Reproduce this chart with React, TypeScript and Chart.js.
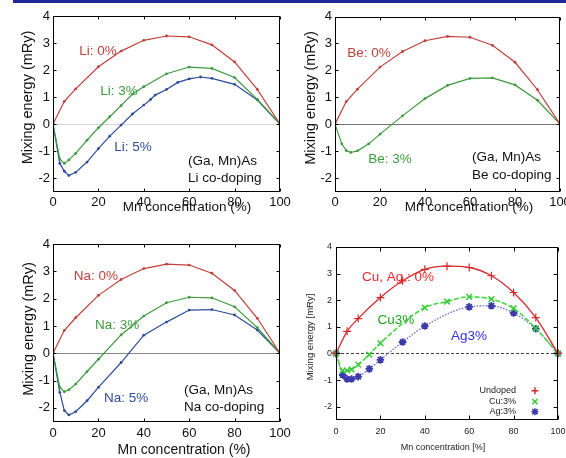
import React, { useEffect, useRef } from 'react';
import { Chart, registerables } from 'chart.js';
Chart.register(...registerables);

const FONT = '"Liberation Sans", Arial, Helvetica, sans-serif';

// ---------- data ----------
const xTickValues = [0, 20, 40, 60, 80, 100];
const yTickValues = [-2, -1, 0, 1, 2, 3, 4];

const undopedX = [0, 5, 10, 20, 30, 40, 50, 60, 70, 80, 90, 100];
const undopedY = [0, 0.84, 1.3, 2.12, 2.7, 3.1, 3.26, 3.23, 2.93, 2.3, 1.28, 0];

const li3X = [0, 3, 5, 7, 10, 15, 20, 25, 30, 35, 40, 50, 60, 70, 80, 90, 100];
const li3Y = [0, -1.3, -1.46, -1.33, -1.09, -0.6, -0.14, 0.27, 0.68, 1.11, 1.38, 1.86, 2.11, 2.06, 1.72, 0.91, 0];

const li5X = [0, 3, 5, 7, 10, 15, 20, 25, 30, 35, 40, 43, 45, 50, 55, 60, 65, 70, 80, 90, 100];
const li5Y = [0, -1.46, -1.75, -1.91, -1.79, -1.41, -0.91, -0.45, -0.04, 0.37, 0.7, 0.91, 1.07, 1.28, 1.54, 1.67, 1.74, 1.69, 1.47, 0.89, 0];

const be3X = [0, 3, 5, 7, 10, 15, 20, 30, 40, 50, 60, 70, 80, 90, 100];
const be3Y = [0, -0.73, -0.98, -1.05, -0.99, -0.73, -0.37, 0.31, 0.95, 1.44, 1.7, 1.72, 1.46, 0.89, 0];

const naX = [0, 3, 5, 7, 10, 15, 20, 30, 40, 50, 60, 70, 80, 90, 100];
const na3Y = [0, -1.25, -1.41, -1.34, -1.13, -0.67, -0.22, 0.67, 1.36, 1.85, 2.05, 2.03, 1.7, 0.94, 0];
const na5Y = [0, -1.43, -2.1, -2.26, -2.14, -1.74, -1.25, -0.34, 0.66, 1.14, 1.58, 1.6, 1.4, 0.85, 0];

const brUndopedX = [0, 5, 10, 20, 30, 40, 50, 60, 70, 80, 90, 100];
const brUndopedY = [0, 0.83, 1.31, 2.1, 2.73, 3.16, 3.28, 3.23, 2.92, 2.29, 1.35, 0];
const cu3X = [0, 3, 5, 7, 10, 15, 20, 40, 50, 60, 70, 80, 90, 100];
const cu3Y = [0, -0.64, -0.64, -0.6, -0.42, -0.04, 0.39, 1.72, 1.95, 2.13, 2.04, 1.69, 0.94, 0];
const ag3X = [0, 3, 5, 7, 10, 15, 20, 30, 40, 60, 70, 80, 90, 100];
const ag3Y = [0, -0.81, -0.96, -0.96, -0.87, -0.58, -0.24, 0.43, 1.03, 1.75, 1.79, 1.52, 0.93, 0];

const legendLabels = ['Undoped', 'Cu:3%', 'Ag:3%'];

// ---------- styles ----------
const RED = '#c0413b';
const GREEN = '#3f9a3f';
const BLUE = '#2e4c9c';

const pts = (xs: number[], ys: number[]) => xs.map((x, i) => ({ x, y: ys[i] }));
const matlab = (label: string, xs: number[], ys: number[], color: string) => ({
  label,
  data: pts(xs, ys),
  borderColor: color,
  backgroundColor: color,
  borderWidth: 1.2,
  pointRadius: 1.4,
  pointBackgroundColor: color,
  pointBorderWidth: 0,
  tension: 0,
  fill: false,
});

type Txt = { text: string; x: number; y: number; color: string; size: number; align?: CanvasTextAlign };
type Title = { text: string; cx: number; cy: number; size: number };
type Cfg = {
  left: number; top: number; width: number; height: number;
  plot: { l: number; r: number; t: number; b: number };
  datasets: any[];
  labels: Txt[];
  xTitle: Title; yTitle: Title;
  tickSize: number; padX: number; padY: number; tickColor: string; titleColor: string;
  zero: { color: string; dash: number[]; width: number };
  tickLen: number;
  legend?: { textX: number; markX: number; ys: number[]; markers: { kind: string; color: string }[] };
};

const tlCfg: Cfg = {
  left: 0, top: 0, width: 300, height: 228,
  plot: { l: 53, r: 280, t: 16, b: 191.5 },
  datasets: [
    matlab('Li: 0%', undopedX, undopedY, RED),
    matlab('Li: 3%', li3X, li3Y, GREEN),
    matlab('Li: 5%', li5X, li5Y, BLUE),
  ],
  labels: [
    { text: 'Li: 0%', x: 19.8, y: 2.7, color: RED, size: 13.5 },
    { text: 'Li: 3%', x: 29.1, y: 1.22, color: GREEN, size: 13.5 },
    { text: 'Li: 5%', x: 35.2, y: -0.87, color: BLUE, size: 13.5 },
    { text: '(Ga, Mn)As', x: 59.5, y: -1.39, color: '#111', size: 13.5, align: 'left' },
    { text: 'Li co-doping', x: 59.5, y: -2.02, color: '#111', size: 13.5, align: 'left' },
  ],
  xTitle: { text: 'Mn concentration (%)', cx: 187, cy: 207.5, size: 13.5 },
  yTitle: { text: 'Mixing energy (mRy)', cx: 28, cy: 97.5, size: 14.5 },
  tickSize: 13, padX: 3, padY: 3, tickColor: '#111', titleColor: '#111',
  zero: { color: '#d4d4d4', dash: [], width: 1 },
  tickLen: 3,
};

const trCfg: Cfg = {
  left: 283, top: 0, width: 283, height: 228,
  plot: { l: 52, r: 277, t: 16.5, b: 191.5 },
  datasets: [
    matlab('Be: 0%', undopedX, undopedY, RED),
    matlab('Be: 3%', be3X, be3Y, GREEN),
  ],
  labels: [
    { text: 'Be: 0%', x: 15.1, y: 2.65, color: RED, size: 13.5 },
    { text: 'Be: 3%', x: 24.4, y: -1.29, color: GREEN, size: 13.5 },
    { text: '(Ga, Mn)As', x: 60.9, y: -1.24, color: '#111', size: 13.5, align: 'left' },
    { text: 'Be co-doping', x: 60.9, y: -1.88, color: '#111', size: 13.5, align: 'left' },
  ],
  xTitle: { text: 'Mn concentration (%)', cx: 186, cy: 207.5, size: 13.5 },
  yTitle: { text: 'Mixing energy (mRy)', cx: 27.5, cy: 98, size: 14.5 },
  tickSize: 13, padX: 3, padY: 3, tickColor: '#111', titleColor: '#111',
  zero: { color: '#777', dash: [], width: 1 },
  tickLen: 3,
};

const blCfg: Cfg = {
  left: 0, top: 228, width: 300, height: 230,
  plot: { l: 53, r: 280, t: 16, b: 193.5 },
  datasets: [
    matlab('Na: 0%', undopedX, undopedY, RED),
    matlab('Na: 3%', naX, na3Y, GREEN),
    matlab('Na: 5%', naX, na5Y, BLUE),
  ],
  labels: [
    { text: 'Na: 0%', x: 18.9, y: 2.8, color: RED, size: 13.5 },
    { text: 'Na: 3%', x: 28.2, y: 1.03, color: GREEN, size: 13.5 },
    { text: 'Na: 5%', x: 32.2, y: -1.65, color: BLUE, size: 13.5 },
    { text: '(Ga, Mn)As', x: 57.7, y: -1.34, color: '#111', size: 13.5, align: 'left' },
    { text: 'Na co-doping', x: 57.7, y: -1.98, color: '#111', size: 13.5, align: 'left' },
  ],
  xTitle: { text: 'Mn concentration (%)', cx: 184, cy: 222, size: 14 },
  yTitle: { text: 'Mixing energy (mRy)', cx: 29, cy: 101, size: 14.5 },
  tickSize: 13, padX: 4, padY: 3, tickColor: '#111', titleColor: '#111',
  zero: { color: '#888', dash: [], width: 1 },
  tickLen: 3,
};

const brCfg: Cfg = {
  left: 283, top: 228, width: 283, height: 230,
  plot: { l: 53, r: 275, t: 19, b: 192 },
  datasets: [
    {
      label: 'Undoped', data: pts(brUndopedX, brUndopedY),
      borderColor: '#d42a2a', borderWidth: 1.3, cubicInterpolationMode: 'monotone', fill: false,
      pointStyle: 'cross', pointRadius: 4, pointBorderWidth: 1.2, pointBorderColor: '#d42a2a', clip: 6,
    },
    {
      label: 'Cu:3%', data: pts(cu3X, cu3Y),
      borderColor: '#45d845', borderWidth: 1.6, borderDash: [5, 2], cubicInterpolationMode: 'monotone', fill: false,
      pointStyle: 'crossRot', pointRadius: 4, pointBorderWidth: 1.5, pointBorderColor: '#33cc33', clip: 6,
    },
    {
      label: 'Ag:3%', data: pts(ag3X, ag3Y),
      borderColor: '#7a6cc8', borderWidth: 1.4, borderDash: [1.5, 1.5], cubicInterpolationMode: 'monotone', fill: false,
      pointStyle: 'star', pointRadius: 3.8, pointBorderWidth: 1.8, pointBorderColor: '#3a3aaa', clip: 6,
    },
  ],
  labels: [
    { text: 'Cu, Ag : 0%', x: 27.9, y: 2.87, color: '#f0262a', size: 13.5 },
    { text: 'Cu3%', x: 27, y: 1.25, color: '#1fa81f', size: 13.5 },
    { text: 'Ag3%', x: 59.9, y: 0.64, color: '#3030f0', size: 13.5 },
  ],
  xTitle: { text: 'Mn concentration [%]', cx: 160, cy: 220, size: 9 },
  yTitle: { text: 'Mixing energy [mRy]', cx: 27, cy: 109, size: 9.5 },
  tickSize: 9, padX: 6, padY: 4, tickColor: '#222', titleColor: '#222',
  zero: { color: '#444', dash: [3, 2], width: 1 },
  tickLen: 4,
  legend: {
    textX: 81.1, markX: 89.6, ys: [-1.4, -1.81, -2.19],
    markers: [
      { kind: 'plus', color: '#d42a2a' },
      { kind: 'x', color: '#33cc33' },
      { kind: 'star', color: '#3a3aaa' },
    ],
  },
};

const panels = [tlCfg, trCfg, blCfg, brCfg];

function drawMarker(ctx: CanvasRenderingContext2D, kind: string, x: number, y: number, r: number, color: string) {
  ctx.save();
  ctx.strokeStyle = color;
  ctx.lineWidth = 1.5;
  ctx.beginPath();
  if (kind === 'plus' || kind === 'star') {
    ctx.moveTo(x - r, y); ctx.lineTo(x + r, y);
    ctx.moveTo(x, y - r); ctx.lineTo(x, y + r);
  }
  if (kind === 'x' || kind === 'star') {
    const d = r * 0.75;
    ctx.moveTo(x - d, y - d); ctx.lineTo(x + d, y + d);
    ctx.moveTo(x - d, y + d); ctx.lineTo(x + d, y - d);
  }
  ctx.stroke();
  ctx.restore();
}

function Panel({ cfg }: { cfg: Cfg }) {
  const ref = useRef<HTMLCanvasElement>(null);
  useEffect(() => {
    const canvas = ref.current!;
    const { plot } = cfg;
    const deco = {
      id: 'deco',
      beforeDatasetsDraw(chart: any) {
        const { ctx, chartArea: a, scales } = chart;
        const y0 = Math.round(scales.y.getPixelForValue(0)) + 0.5;
        ctx.save();
        ctx.strokeStyle = cfg.zero.color;
        ctx.lineWidth = cfg.zero.width;
        ctx.setLineDash(cfg.zero.dash);
        ctx.beginPath();
        ctx.moveTo(a.left, y0);
        ctx.lineTo(a.right, y0);
        ctx.stroke();
        ctx.restore();
      },
      afterDraw(chart: any) {
        const { ctx, chartArea: a, scales } = chart;
        const sx = scales.x, sy = scales.y;
        const L = Math.round(a.left) + 0.5, R = Math.round(a.right) - 0.5;
        const T = Math.round(a.top) + 0.5, B = Math.round(a.bottom) - 0.5;
        ctx.save();
        ctx.strokeStyle = '#000';
        ctx.lineWidth = 1;
        ctx.strokeRect(L, T, R - L, B - T);
        ctx.beginPath();
        const tl = cfg.tickLen;
        xTickValues.forEach((v) => {
          const px = Math.round(sx.getPixelForValue(v)) + 0.5;
          ctx.moveTo(px, B); ctx.lineTo(px, B - tl);
          ctx.moveTo(px, T); ctx.lineTo(px, T + tl);
        });
        yTickValues.forEach((v) => {
          const py = Math.round(sy.getPixelForValue(v)) + 0.5;
          ctx.moveTo(L, py); ctx.lineTo(L + tl, py);
          ctx.moveTo(R, py); ctx.lineTo(R - tl, py);
        });
        ctx.stroke();

        // annotations
        cfg.labels.forEach((t) => {
          ctx.font = `${t.size}px ${FONT}`;
          ctx.fillStyle = t.color;
          ctx.textAlign = t.align || 'center';
          ctx.textBaseline = 'middle';
          ctx.fillText(t.text, sx.getPixelForValue(t.x), sy.getPixelForValue(t.y));
        });

        // axis titles
        ctx.fillStyle = cfg.titleColor;
        ctx.textAlign = 'center';
        ctx.textBaseline = 'middle';
        ctx.font = `${cfg.xTitle.size}px ${FONT}`;
        ctx.fillText(cfg.xTitle.text, cfg.xTitle.cx, cfg.xTitle.cy);
        ctx.save();
        ctx.translate(cfg.yTitle.cx, cfg.yTitle.cy);
        ctx.rotate(-Math.PI / 2);
        ctx.font = `${cfg.yTitle.size}px ${FONT}`;
        ctx.fillText(cfg.yTitle.text, 0, 0);
        ctx.restore();

        // legend (gnuplot style)
        if (cfg.legend) {
          const lg = cfg.legend;
          ctx.font = `9px ${FONT}`;
          ctx.fillStyle = '#222';
          ctx.textAlign = 'right';
          ctx.textBaseline = 'middle';
          lg.ys.forEach((yv, i) => {
            const py = sy.getPixelForValue(yv);
            ctx.fillText(legendLabels[i], sx.getPixelForValue(lg.textX), py);
            drawMarker(ctx, lg.markers[i].kind, sx.getPixelForValue(lg.markX), py, 3.5, lg.markers[i].color);
          });
        }
        ctx.restore();
      },
    };

    const chart = new Chart(canvas, {
      type: 'line',
      data: { datasets: cfg.datasets },
      options: {
        responsive: false,
        animation: false,
        events: [],
        layout: { padding: { top: plot.t, right: cfg.width - plot.r, left: 0, bottom: 0 } },
        plugins: { legend: { display: false }, tooltip: { enabled: false }, title: { display: false } },
        scales: {
          x: {
            type: 'linear', min: 0, max: 100,
            afterBuildTicks: (s: any) => { s.ticks = xTickValues.map((v) => ({ value: v })); },
            afterFit: (s: any) => { s.height = cfg.height - plot.b; s.paddingLeft = 0; s.paddingRight = 0; },
            grid: { display: false, drawTicks: false },
            border: { display: false },
            ticks: {
              padding: cfg.padX, color: cfg.tickColor, maxRotation: 0, autoSkip: false,
              font: { size: cfg.tickSize, family: FONT },
              callback: (v: any) => String(v),
            },
          },
          y: {
            type: 'linear', min: -2.5, max: 4,
            afterBuildTicks: (s: any) => { s.ticks = yTickValues.map((v) => ({ value: v })); },
            afterFit: (s: any) => { s.width = plot.l; s.paddingTop = 0; s.paddingBottom = 0; },
            grid: { display: false, drawTicks: false },
            border: { display: false },
            ticks: {
              padding: cfg.padY, color: cfg.tickColor, autoSkip: false,
              font: { size: cfg.tickSize, family: FONT },
              callback: (v: any) => String(v),
            },
          },
        },
      } as any,
      plugins: [deco],
    });
    return () => chart.destroy();
  }, []);
  return (
    <canvas
      ref={ref}
      width={cfg.width}
      height={cfg.height}
      style={{ position: 'absolute', left: cfg.left, top: cfg.top, width: cfg.width, height: cfg.height }}
    />
  );
}

export default function App() {
  return (
    <div style={{ position: 'fixed', left: 0, top: 0, width: 566, height: 458, background: '#fff', overflow: 'hidden' }}>
      <div style={{ position: 'absolute', left: 13, top: 0, width: 553, height: 3, background: '#1e2a9a' }} />
      {panels.map((p, i) => (
        <Panel key={i} cfg={p} />
      ))}
    </div>
  );
}
